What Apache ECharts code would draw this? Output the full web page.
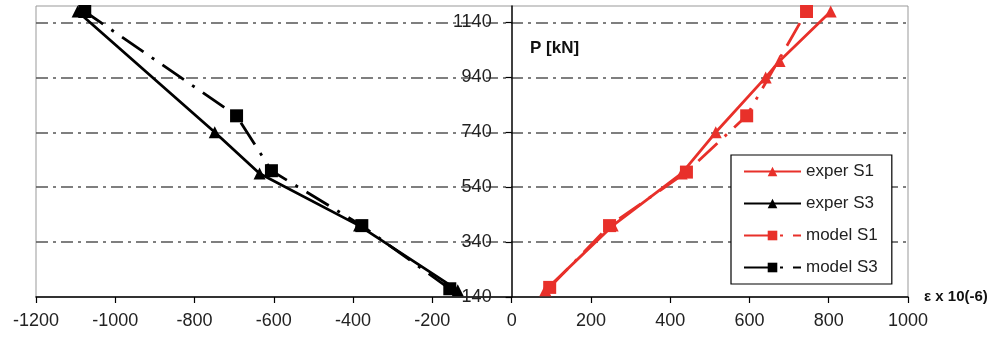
<!DOCTYPE html>
<html>
<head>
<meta charset="utf-8">
<script src="https://cdn.jsdelivr.net/npm/echarts@6/dist/echarts.min.js"></script>
<style>html,body{margin:0;padding:0;background:#fff}#c{width:1000px;height:343px}</style>
</head>
<body>
<div id="c"></div>
<script>
// Data (strain x 10^-6, load P [kN])
const seriesNames = ['exper S1', 'exper S3', 'model S1', 'model S3'];
const experS1Strain = [85, 255, 429, 515, 641, 676, 805];
const experS1Load   = [165, 400, 590, 740, 940, 1000, 1180];
const experS3Strain = [-136, -385, -636, -749, -1095];
const experS3Load   = [165, 400, 590, 740, 1180];
const modelS1Strain = [96, 247, 441, 593, 744];
const modelS1Load   = [175, 400, 595, 800, 1180];
const modelS3Strain = [-156, -378, -606, -694, -1077];
const modelS3Load   = [170, 400, 600, 800, 1180];
const xTicks = { min: -1200, max: 1000, step: 200 };
const yTicks = { min: 140, max: 1200, step: 200 };

const pairs = (xs, ys) => xs.map((x, i) => [x, ys[i]]);
const RED = '#e8302a', BLACK = '#000';
const dashDot = [26, 10, 3, 10];
const font = "'Liberation Sans', Arial, sans-serif";

const GRID = { left: 36, right: 92, top: 6, bottom: 46 };
const plotW = 1000 - GRID.left - GRID.right;
// shift y axis so it sits at x = 0 on the x scale
const yOffset = -plotW * (0 - xTicks.min) / (xTicks.max - xTicks.min);

const chart = echarts.init(document.getElementById('c'), null, { renderer: 'canvas' });
chart.setOption({
  animation: false,
  backgroundColor: '#fff',
  grid: Object.assign({ show: true, borderColor: '#999', borderWidth: 1, backgroundColor: 'transparent',
    containLabel: false, outerBoundsMode: 'none' }, GRID),
  xAxis: {
    type: 'value', min: xTicks.min, max: xTicks.max, interval: xTicks.step,
    name: 'ε x 10(-6)', nameLocation: 'end', nameGap: 16,
    nameTextStyle: { fontFamily: font, fontSize: 15, fontWeight: 'bold', color: '#111', verticalAlign: 'middle', align: 'left' },
    axisLine: { onZero: false, lineStyle: { color: '#000', width: 1.5 } },
    axisTick: { show: true, length: 6, lineStyle: { color: '#000', width: 1.2 } },
    axisLabel: { margin: 15, fontFamily: font, fontSize: 18, color: '#222', formatter: v => String(v) },
    splitLine: { show: false }
  },
  yAxis: {
    type: 'value', min: yTicks.min, max: yTicks.max, interval: yTicks.step,
    position: 'left', offset: yOffset,
    axisLine: { onZero: false, lineStyle: { color: '#000', width: 1.5 } },
    axisTick: { show: true, length: 6, lineStyle: { color: '#000', width: 1.2 } },
    axisLabel: { margin: 20, fontFamily: font, fontSize: 18, color: '#222', showMaxLabel: false,
      formatter: v => (v === yTicks.max ? '' : String(v)) },
    splitLine: { show: true, showMinLine: false, showMaxLine: false, lineStyle: { color: '#555', width: 1.5, type: [12, 5, 3, 5] } }
  },
  legend: {
    orient: 'vertical', left: 731, top: 155,
    backgroundColor: '#fff', borderColor: '#000', borderWidth: 1.2,
    padding: [8, 14, 8, 12], itemGap: 15, itemWidth: 57, itemHeight: 12,
    textStyle: { fontFamily: font, fontSize: 17, color: '#222' },
    data: seriesNames
  },
  graphic: [{
    type: 'text', left: 530, top: 40,
    style: { text: 'P [kN]', font: "bold 17px 'Liberation Sans', Arial, sans-serif", fill: '#111' }
  }],
  series: [
    { name: seriesNames[0], type: 'line', data: pairs(experS1Strain, experS1Load), symbol: 'triangle', symbolSize: 12,
      itemStyle: { color: RED }, lineStyle: { color: RED, width: 2.8 }, z: 3 },
    { name: seriesNames[1], type: 'line', data: pairs(experS3Strain, experS3Load), symbol: 'triangle', symbolSize: 12,
      itemStyle: { color: BLACK }, lineStyle: { color: BLACK, width: 2.8 }, z: 3 },
    { name: seriesNames[2], type: 'line', data: pairs(modelS1Strain, modelS1Load), symbol: 'rect', symbolSize: 13,
      itemStyle: { color: RED }, lineStyle: { color: RED, width: 2.8, type: dashDot }, z: 3 },
    { name: seriesNames[3], type: 'line', data: pairs(modelS3Strain, modelS3Load), symbol: 'rect', symbolSize: 13,
      itemStyle: { color: BLACK }, lineStyle: { color: BLACK, width: 2.8, type: dashDot }, z: 3 }
  ]
});
</script>
</body>
</html>
